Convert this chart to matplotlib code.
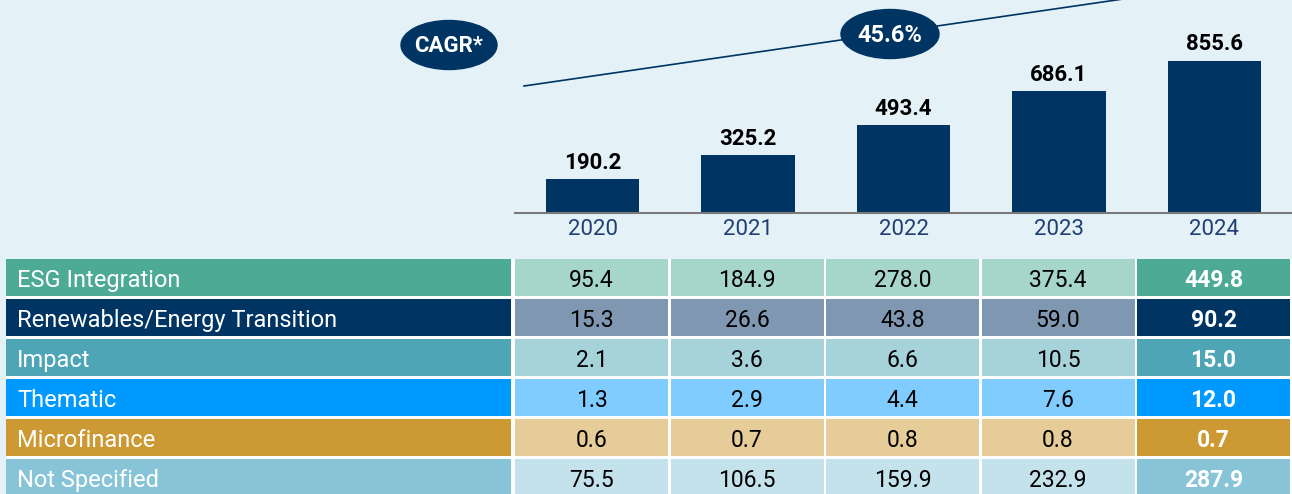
import matplotlib.pyplot as plt
from matplotlib.patches import Ellipse, Rectangle

plt.rcParams['font.family'] = ['Roboto', 'DejaVu Sans']

# data
years = ['2020', '2021', '2022', '2023', '2024']
totals = [190.2, 325.2, 493.4, 686.1, 855.6]
cagr_label = '45.6%'

categories = ['ESG Integration', 'Renewables/Energy Transition', 'Impact',
              'Thematic', 'Microfinance', 'Not Specified']
esg = [95.4, 184.9, 278.0, 375.4, 449.8]
renewables = [15.3, 26.6, 43.8, 59.0, 90.2]
impact = [2.1, 3.6, 6.6, 10.5, 15.0]
thematic = [1.3, 2.9, 4.4, 7.6, 12.0]
microfinance = [0.6, 0.7, 0.8, 0.8, 0.7]
not_specified = [75.5, 106.5, 159.9, 232.9, 287.9]
rows = [esg, renewables, impact, thematic, microfinance, not_specified]

# colours
bg = '#E4F2F8'
navy = '#003462'
dark = ['#4DAA94', '#003462', '#4EA5B6', '#0099FF', '#CC9933', '#88C4D8']
light = ['#A6D5CA', '#7F97B1', '#A6D2DA', '#80CCFF', '#E6CC99', '#C4E2EC']

W, H = 1292, 494
fig = plt.figure(figsize=(W / 100, H / 100), dpi=100, facecolor=bg)

# bar chart (baseline at y=213 px, x from 515 px to right edge)
ax = fig.add_axes([515 / W, 1 - 213 / H, 777 / W, 213 / H])
ax.set_facecolor('none')
x = range(len(years))
ax.bar(x, totals, width=0.6, color=navy)
for xi, v in zip(x, totals):
    ax.annotate(f'{v:.1f}', (xi, v), xytext=(0, 4), textcoords='offset points',
                ha='center', va='bottom', fontsize=16, fontweight='bold', color='black')
ax.set_xlim(-0.5, 4.5)
ax.set_ylim(0, 1199)
ax.set_xticks(list(x))
ax.set_xticklabels(years, fontsize=16, color='#1F3F73')
ax.tick_params(axis='x', length=0, pad=4)
ax.set_yticks([])
for s in ['top', 'left', 'right']:
    ax.spines[s].set_visible(False)
ax.spines['bottom'].set_color('#7A7A7A')
ax.spines['bottom'].set_linewidth(1.5)

# table
table_top = 259
pitch = 40
tab = fig.add_axes([0, 0, 1, 1 - table_top / H])
tab.set_xlim(0, W)
nrows_vis = (H - table_top) / pitch
tab.set_ylim(nrows_vis, 0)
tab.axis('off')
tab.add_patch(Rectangle((6, 0), W - 6, nrows_vis, color='white', lw=0))
row_h = 37 / pitch
col_x0, col_pitch, col_w = 515, 155.5, 153
for i, (name, vals) in enumerate(zip(categories, rows)):
    tab.add_patch(Rectangle((6, i), 505, row_h, color=dark[i], lw=0))
    tab.text(17, i + row_h / 2 + 0.08, name, ha='left', va='center',
             fontsize=17, color='white')
    for j, v in enumerate(vals):
        last = j == len(vals) - 1
        cx = col_x0 + j * col_pitch
        tab.add_patch(Rectangle((cx, i), col_w, row_h,
                                color=dark[i] if last else light[i], lw=0))
        tab.text(cx + col_w / 2, i + row_h / 2 + 0.08, f'{v:.1f}', ha='center', va='center',
                 fontsize=16.5, color='white' if last else 'black',
                 fontweight='bold' if last else 'normal')

# CAGR decoration
deco = fig.add_axes([0, 0, 1, 1], zorder=5)
deco.set_xlim(0, W)
deco.set_ylim(H, 0)
deco.axis('off')
deco.patch.set_visible(False)
deco.plot([524, 1130], [86, -2], color=navy, lw=1.2, clip_on=False)
deco.add_patch(Ellipse((449, 45), 96, 49, color=navy))
deco.text(449, 46, 'CAGR*', ha='center', va='center', fontsize=16,
          fontweight='bold', color='white')
deco.add_patch(Ellipse((890, 34), 98, 49, color=navy))
deco.text(890, 35, cagr_label, ha='center', va='center', fontsize=17,
          fontweight='bold', color='white')

fig.savefig('out.png', dpi=100, facecolor=bg)
